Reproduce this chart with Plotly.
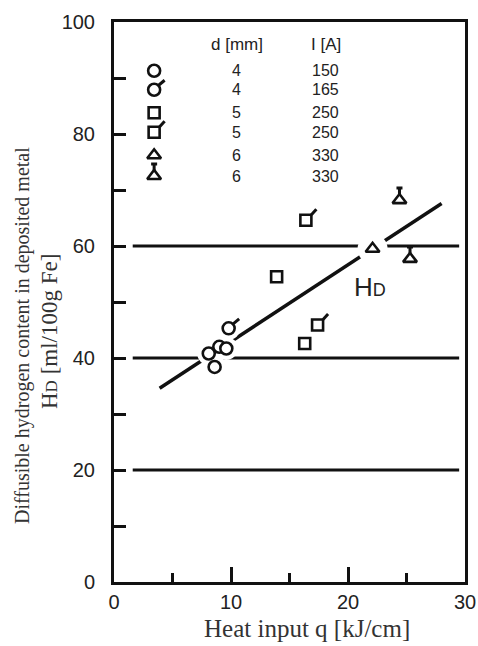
import plotly.graph_objects as go

# ---------------- data ----------------
circ_x = [8.1, 8.6, 9.0, 9.6]          # d=4, I=150
circ_y = [40.8, 38.4, 42.0, 41.7]
circt_x = [9.8]                         # d=4, I=165
circt_y = [45.3]
sq_x = [13.9, 16.3]                     # d=5, I=250
sq_y = [54.5, 42.6]
sqt_x = [16.4, 17.4]                    # d=5, I=250 (tailed)
sqt_y = [64.6, 45.9]
tri_x = [22.1]                          # d=6, I=330
tri_y = [59.5]
trit_x = [24.4, 25.3]                   # d=6, I=330 (stemmed)
trit_y = [68.2, 57.7]

fit_x = [3.9, 28.0]                     # regression line HD
fit_y = [34.6, 67.6]

ref_levels = [20, 40, 60]
ref_x = [1.6, 29.5]

legend_d = ["4", "4", "5", "5", "6", "6"]
legend_I = ["150", "165", "250", "250", "330", "330"]

x_ticks = [0, 10, 20, 30]
y_ticks = [0, 20, 40, 60, 80, 100]

# legend layout (positions only)
leg_sym_x = 3.43
leg_row_y = [91.3, 87.9, 83.8, 80.3, 76.2, 72.5]
leg_head_y = 95.9
leg_d_x = 10.5
leg_I_x = 18.1

BLACK = "#111111"
fig = go.Figure()

for lv in ref_levels:
    fig.add_trace(go.Scatter(x=ref_x, y=[lv, lv], mode="lines",
                             line=dict(color=BLACK, width=3), hoverinfo="skip", showlegend=False))
fig.add_trace(go.Scatter(x=fit_x, y=fit_y, mode="lines",
                         line=dict(color=BLACK, width=3.5), hoverinfo="skip", showlegend=False))

# white halos (gaps in lines around markers)
fig.add_trace(go.Scatter(x=circ_x + circt_x, y=circ_y + circt_y, mode="markers",
                         marker=dict(symbol="circle", size=23, color="white", line=dict(width=0)),
                         hoverinfo="skip", showlegend=False))
fig.add_trace(go.Scatter(x=tri_x, y=tri_y, mode="markers",
                         marker=dict(symbol="circle", size=30, color="white", line=dict(width=0)),
                         hoverinfo="skip", showlegend=False))


def add_pts(xs, ys, symbol, size=12):
    fig.add_trace(go.Scatter(x=xs, y=ys, mode="markers",
                             marker=dict(symbol=symbol, size=size, color="white",
                                         line=dict(color=BLACK, width=2.6)),
                             showlegend=False))


add_pts(circ_x, circ_y, "circle")
add_pts(circt_x, circt_y, "circle")
add_pts(sq_x, sq_y, "square", 11)
add_pts(sqt_x, sqt_y, "square", 11)
add_pts(tri_x, tri_y, "triangle-up")
add_pts(trit_x, trit_y, "triangle-up")

leg_syms = [("circle", 12), ("circle", 12), ("square", 11), ("square", 11),
            ("triangle-up", 12), ("triangle-up", 12)]
for (sym, sz), yy in zip(leg_syms, leg_row_y):
    add_pts([leg_sym_x], [yy], sym, sz)

shapes = []


def circ_tail(x, y):
    shapes.append(dict(type="line", xref="x", yref="y", xsizemode="pixel", ysizemode="pixel",
                       xanchor=x, yanchor=y, x0=4.5, y0=4.5, x1=10.5, y1=9.5,
                       line=dict(color=BLACK, width=3), layer="above"))


def sq_tail(x, y):
    shapes.append(dict(type="line", xref="x", yref="y", xsizemode="pixel", ysizemode="pixel",
                       xanchor=x, yanchor=y, x0=5.5, y0=5.5, x1=10.5, y1=11,
                       line=dict(color=BLACK, width=3), layer="above"))


def tri_stem(x, y):
    shapes.append(dict(type="path", xref="x", yref="y", xsizemode="pixel", ysizemode="pixel",
                       xanchor=x, yanchor=y, path="M0,6 L0,12 M-3,12 L3,12",
                       line=dict(color=BLACK, width=3), layer="above"))


for x, y in zip(circt_x, circt_y):
    circ_tail(x, y)
for x, y in zip(sqt_x, sqt_y):
    sq_tail(x, y)
for x, y in zip(trit_x, trit_y):
    tri_stem(x, y)
circ_tail(leg_sym_x, leg_row_y[1])
sq_tail(leg_sym_x, leg_row_y[3])
tri_stem(leg_sym_x, leg_row_y[5])

annotations = []
sans = "Liberation Sans, Arial, sans-serif"
serif = "Liberation Serif, Times New Roman, serif"
annotations.append(dict(x=leg_d_x, y=leg_head_y, xref="x", yref="y", text="d [mm]",
                        showarrow=False, font=dict(family=sans, size=17, color="#222")))
annotations.append(dict(x=leg_I_x, y=leg_head_y, xref="x", yref="y", text="I [A]",
                        showarrow=False, font=dict(family=sans, size=17, color="#222")))
for dv, iv, yy in zip(legend_d, legend_I, leg_row_y):
    annotations.append(dict(x=leg_d_x, y=yy, xref="x", yref="y", text=dv,
                            showarrow=False, font=dict(family=sans, size=16, color="#222")))
    annotations.append(dict(x=leg_I_x, y=yy, xref="x", yref="y", text=iv,
                            showarrow=False, font=dict(family=sans, size=16, color="#222")))

annotations.append(dict(x=21.9, y=52.7, xref="x", yref="y",
                        text="H<span style='font-size:18px'>D</span>",
                        showarrow=False, font=dict(family=sans, size=26, color="#222")))

# page geometry (body margin removed below)
PL, PR, PT, PB = 114, 465, 22, 582     # plot area in page pixels
W, H = 478, 646
L, T, R, B = PL, PT, W - PR, H - PB
pw, ph = PR - PL, PB - PT


def px2paper(px, py):
    return (px - PL) / pw, (PB - py) / ph


for txt, px, py, sz, ang in [
    ("Diffusible hydrogen content in deposited metal", 22, 336, 20, -90),
    ("H<span style='font-size:17px'>D</span> [ml/100g Fe]", 49, 332, 23, -90),
    ("Heat input q [kJ/cm]", 307, 628, 25, 0),
]:
    ax_, ay_ = px2paper(px, py)
    annotations.append(dict(x=ax_, y=ay_, xref="paper", yref="paper", text=txt,
                            textangle=ang, showarrow=False, xanchor="center", yanchor="middle",
                            font=dict(family=serif, size=sz, color="#333")))

fig.update_layout(
    width=W, height=H, margin=dict(l=L, r=R, t=T, b=B, pad=0, autoexpand=False),
    plot_bgcolor="white", paper_bgcolor="white",
    shapes=shapes, annotations=annotations, showlegend=False,
    xaxis=dict(range=[0, 30], tickvals=x_ticks, showline=True, linewidth=3, linecolor=BLACK,
               mirror=True, ticks="inside", ticklen=15, tickwidth=3, tickcolor=BLACK,
               minor=dict(dtick=5, tick0=0, ticks="inside", ticklen=9, tickwidth=3, tickcolor=BLACK),
               showgrid=False, zeroline=False, automargin=False,
               tickfont=dict(family=sans, size=20, color="#222")),
    yaxis=dict(range=[0, 100], tickvals=y_ticks, showline=True, linewidth=3, linecolor=BLACK,
               mirror=True, ticks="inside", ticklen=12, tickwidth=3, tickcolor=BLACK,
               minor=dict(dtick=10, tick0=0, ticks="inside", ticklen=12, tickwidth=3, tickcolor=BLACK),
               showgrid=False, zeroline=False, ticklabelstandoff=12, automargin=False,
               tickfont=dict(family=sans, size=20, color="#222")),
)

fig.write_html("out.html", config={"displayModeBar": False},
               post_script="document.body.style.margin='0';document.body.style.overflow='hidden';")
